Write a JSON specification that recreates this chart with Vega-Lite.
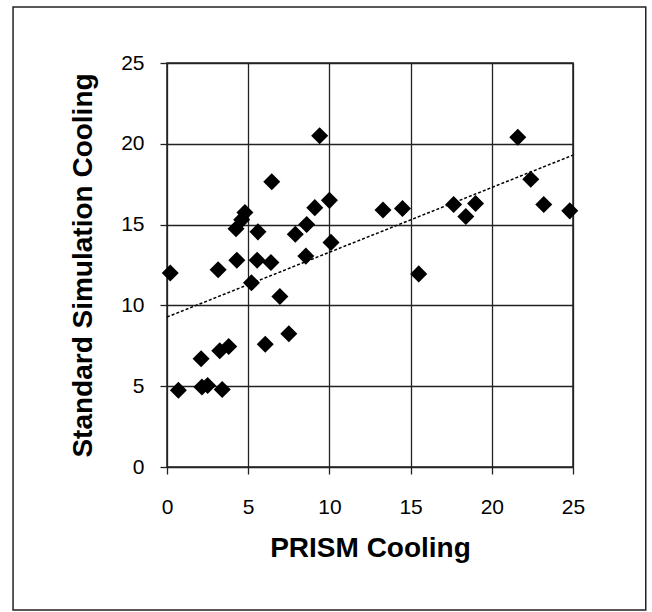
{
  "$schema": "https://vega.github.io/schema/vega-lite/v6.json",
  "width": 406,
  "height": 404,
  "autosize": {"type": "none"},
  "padding": {"left": 167, "top": 63, "right": 79, "bottom": 145},
  "background": "white",
  "config": {
    "font": "Liberation Sans",
    "view": {"stroke": "#222", "strokeWidth": 1.5}
  },
  "datasets": {
    "points": [
      {"prism": 0.2, "standard": 12.0},
      {"prism": 0.7, "standard": 4.75},
      {"prism": 2.1, "standard": 6.7},
      {"prism": 2.15, "standard": 4.95},
      {"prism": 2.5, "standard": 5.05},
      {"prism": 3.15, "standard": 12.2},
      {"prism": 3.25, "standard": 7.2},
      {"prism": 3.4, "standard": 4.8},
      {"prism": 3.8, "standard": 7.45},
      {"prism": 4.25, "standard": 14.75},
      {"prism": 4.3, "standard": 12.8},
      {"prism": 4.6, "standard": 15.3},
      {"prism": 4.8, "standard": 15.75},
      {"prism": 5.2, "standard": 11.4},
      {"prism": 5.55, "standard": 12.8},
      {"prism": 5.6, "standard": 14.55},
      {"prism": 6.05, "standard": 7.6},
      {"prism": 6.4, "standard": 12.65},
      {"prism": 6.45, "standard": 17.65},
      {"prism": 6.95, "standard": 10.55},
      {"prism": 7.5, "standard": 8.25},
      {"prism": 7.9, "standard": 14.4},
      {"prism": 8.55, "standard": 13.05},
      {"prism": 8.6, "standard": 15.0},
      {"prism": 9.1, "standard": 16.05},
      {"prism": 9.4, "standard": 20.5},
      {"prism": 10.0, "standard": 16.5},
      {"prism": 10.1, "standard": 13.9},
      {"prism": 13.3, "standard": 15.9},
      {"prism": 14.5, "standard": 16.0},
      {"prism": 15.5, "standard": 11.95},
      {"prism": 17.65, "standard": 16.25},
      {"prism": 18.4, "standard": 15.5},
      {"prism": 19.0, "standard": 16.3},
      {"prism": 21.6, "standard": 20.4},
      {"prism": 22.4, "standard": 17.8},
      {"prism": 23.2, "standard": 16.25},
      {"prism": 24.8, "standard": 15.85}
    ],
    "trend": [
      {"prism": 0, "standard": 9.28},
      {"prism": 25, "standard": 19.3}
    ]
  },
  "layer": [
    {
      "data": {"name": "trend"},
      "mark": {"type": "line", "color": "black", "strokeWidth": 1.5, "strokeDash": [3, 2]},
      "encoding": {
        "x": {"field": "prism", "type": "quantitative"},
        "y": {"field": "standard", "type": "quantitative"}
      }
    },
    {
      "data": {"name": "points"},
      "mark": {"type": "point", "shape": "diamond", "filled": true, "color": "black", "opacity": 1, "size": 290, "clip": false},
      "encoding": {
        "x": {
          "field": "prism",
          "type": "quantitative",
          "scale": {"domain": [0, 25], "nice": false, "zero": false},
          "axis": {
            "title": "PRISM Cooling",
            "values": [0, 5, 10, 15, 20, 25],
            "grid": true,
            "gridColor": "#222",
            "gridWidth": 1.3,
            "gridOpacity": 1,
            "domain": false,
            "ticks": true,
            "tickColor": "#222",
            "tickSize": 7,
            "tickWidth": 1.3,
            "labelFont": "Liberation Sans",
            "labelFontSize": 21,
            "labelColor": "black",
            "labelPadding": 22,
            "labelFlush": false,
            "titleFont": "Liberation Sans",
            "titleFontSize": 28,
            "titleFontWeight": "bold",
            "titleColor": "black",
            "titleX": 203,
            "titleY": 81,
            "titleBaseline": "middle",
            "titleAlign": "center"
          }
        },
        "y": {
          "field": "standard",
          "type": "quantitative",
          "scale": {"domain": [0, 25], "nice": false, "zero": false},
          "axis": {
            "title": "Standard Simulation Cooling",
            "values": [0, 5, 10, 15, 20, 25],
            "grid": true,
            "gridColor": "#222",
            "gridWidth": 1.3,
            "gridOpacity": 1,
            "domain": false,
            "ticks": true,
            "tickColor": "#222",
            "tickSize": 7,
            "tickWidth": 1.3,
            "labelFont": "Liberation Sans",
            "labelFontSize": 21,
            "labelColor": "black",
            "labelPadding": 16,
            "labelFlush": false,
            "titleFont": "Liberation Sans",
            "titleFontSize": 28,
            "titleFontWeight": "bold",
            "titleColor": "black",
            "titleAngle": 270,
            "titleX": -84,
            "titleY": 202,
            "titleBaseline": "middle",
            "titleAlign": "center"
          }
        }
      }
    },
    {
      "data": {"values": [{}]},
      "mark": {"type": "rect", "fill": "white", "fillOpacity": 0, "stroke": "#222", "strokeWidth": 1.5, "clip": false},
      "encoding": {
        "x": {"datum": -9.48},
        "x2": {"datum": 29.48},
        "y": {"datum": 28.47},
        "y2": {"datum": -8.85}
      }
    }
  ]
}
